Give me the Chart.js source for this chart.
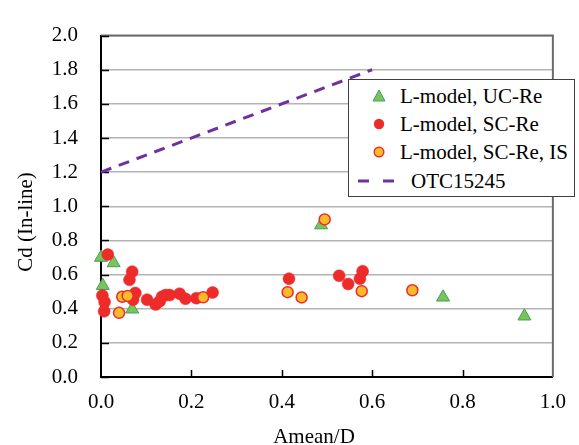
<!DOCTYPE html>
<html>
<head>
<meta charset="utf-8">
<script src="https://cdn.jsdelivr.net/npm/chart.js@4"></script>
<style>
  html, body { margin: 0; padding: 0; background: #fff; }
  #wrap { position: relative; width: 579px; height: 445px; }
  #legend {
    position: absolute; left: 348px; top: 79px; width: 225px; height: 116px;
    background: #fff; border: 1.5px solid #404040;
    font-family: "Liberation Serif", "Times New Roman", serif; font-size: 21px; color: #000;
  }
  #legend .row { position: absolute; left: 0; height: 24px; line-height: 24px; white-space: nowrap; }
  #legend svg { position: absolute; }
</style>
</head>
<body>
<div id="wrap">
  <canvas id="chart" width="579" height="445"></canvas>
  <div id="legend"></div>
</div>
<script>
// ---- data ----
const ucX = [0.000, 0.028, 0.004, 0.069, 0.487, 0.757, 0.937];
const ucY = [0.700, 0.668, 0.535, 0.397, 0.890, 0.467, 0.356];

const scX = [0.003, 0.008, 0.007, 0.015, 0.063, 0.069, 0.076, 0.071, 0.102, 0.121, 0.130, 0.135,
             0.143, 0.152, 0.174, 0.187, 0.211, 0.247, 0.416, 0.527, 0.547, 0.573, 0.579];
const scY = [0.477, 0.440, 0.385, 0.717, 0.569, 0.617, 0.492, 0.453, 0.453, 0.425, 0.444, 0.470,
             0.480, 0.480, 0.488, 0.458, 0.462, 0.495, 0.576, 0.593, 0.545, 0.576, 0.620];

const isX = [0.040, 0.047, 0.059, 0.226, 0.413, 0.444, 0.495, 0.577, 0.689];
const isY = [0.376, 0.470, 0.475, 0.467, 0.497, 0.466, 0.923, 0.503, 0.508];

const otcX = [0.0, 0.6];
const otcY = [1.2, 1.8];

const xTicks = [0, 0.2, 0.4, 0.6, 0.8, 1.0];
const yTicks = [0, 0.2, 0.4, 0.6, 0.8, 1.0, 1.2, 1.4, 1.6, 1.8, 2.0];

const seriesNames = ['L-model, UC-Re', 'L-model, SC-Re', 'L-model, SC-Re, IS', 'OTC15245'];

// ---- colours ----
const GREEN = '#7cc35b', GREEN_EDGE = '#3ba455';
const RED = '#ee2b2b';
const YELLOW = '#f9bb2a';
const PURPLE = '#7030a0';
const FONT = '"Liberation Serif", "Times New Roman", serif';

const pts = (xs, ys) => xs.map((x, i) => ({ x, y: ys[i] }));

// axis titles, inward tick marks, plot border
const decor = {
    id: 'decor',
    beforeDatasetsDraw(chart) {
        const { ctx, chartArea: a, scales: { x, y } } = chart;
        ctx.save();
        ctx.strokeStyle = '#6b6b6b';
        ctx.lineWidth = 2;
        ctx.beginPath();
        ctx.moveTo(a.left, a.top); ctx.lineTo(a.right, a.top); ctx.lineTo(a.right, a.bottom);
        ctx.stroke();
        ctx.strokeStyle = '#000';
        ctx.lineWidth = 1.5;
        ctx.beginPath();
        yTicks.forEach(v => {
            const py = Math.round(y.getPixelForValue(v)) + 0.5;
            ctx.moveTo(a.left, py); ctx.lineTo(a.left + 8, py);
        });
        xTicks.slice(1, -1).forEach(v => {
            const px = Math.round(x.getPixelForValue(v)) + 0.5;
            ctx.moveTo(px, a.bottom); ctx.lineTo(px, a.bottom - 7);
        });
        ctx.stroke();
        ctx.restore();
    },
    afterDraw(chart) {
        const { ctx } = chart;
        ctx.save();
        ctx.fillStyle = '#000';
        ctx.font = '21px ' + FONT;
        ctx.textAlign = 'center';
        ctx.textBaseline = 'alphabetic';
        ctx.fillText('Amean/D', 314, 443);
        ctx.translate(32, 222);
        ctx.rotate(-Math.PI / 2);
        ctx.fillText('Cd (In-line)', 0, 0);
        ctx.restore();
    }
};

new Chart(document.getElementById('chart'), {
    type: 'scatter',
    data: {
        datasets: [
            {
                label: seriesNames[0], data: pts(ucX, ucY), order: 3,
                pointStyle: 'triangle', pointRadius: 7.5, pointHoverRadius: 7.5,
                backgroundColor: GREEN, borderColor: GREEN_EDGE, borderWidth: 1
            },
            {
                label: seriesNames[1], data: pts(scX, scY), order: 2,
                pointStyle: 'circle', pointRadius: 6, pointHoverRadius: 6,
                backgroundColor: RED, borderColor: RED, borderWidth: 0.5
            },
            {
                label: seriesNames[2], data: pts(isX, isY), order: 1,
                pointStyle: 'circle', pointRadius: 5.5, pointHoverRadius: 5.5,
                backgroundColor: YELLOW, borderColor: RED, borderWidth: 1.5
            },
            {
                label: seriesNames[3], data: pts(otcX, otcY), order: 0, type: 'line',
                showLine: true, pointRadius: 0, borderColor: PURPLE, borderWidth: 3,
                borderDash: [11, 8], fill: false
            }
        ]
    },
    options: {
        responsive: false,
        animation: false,
        clip: false,
        layout: { padding: { top: 15, right: 26, left: 0, bottom: 0 } },
        plugins: { legend: { display: false }, tooltip: { enabled: false } },
        scales: {
            x: {
                type: 'linear', min: 0, max: 1,
                afterFit: s => { s.height = 68; },
                afterBuildTicks: s => { s.ticks = xTicks.map(v => ({ value: v })); },
                grid: { display: false, drawTicks: false },
                border: { display: true, color: '#000', width: 2 },
                ticks: {
                    padding: 13, color: '#000', maxRotation: 0,
                    font: { family: FONT, size: 21 },
                    callback: v => v.toFixed(1)
                }
            },
            y: {
                type: 'linear', min: 0, max: 2,
                afterFit: s => { s.width = 101; },
                afterBuildTicks: s => { s.ticks = yTicks.map(v => ({ value: v })); },
                grid: { color: '#b3b3b3', lineWidth: 1.5, drawTicks: false },
                border: { display: true, color: '#000', width: 2 },
                ticks: {
                    padding: 23, color: '#000',
                    font: { family: FONT, size: 21 },
                    callback: v => v.toFixed(1)
                }
            }
        }
    },
    plugins: [decor]
});

// ---- legend box (HTML) ----
const legend = document.getElementById('legend');
const markers = [
    '<svg width="14" height="13" style="left:23px;top:5px"><polygon points="7,1 13,12 1,12" fill="' + GREEN + '" stroke="' + GREEN_EDGE + '" stroke-width="1"/></svg>',
    '<svg width="12" height="12" style="left:24px;top:6px"><circle cx="6" cy="6" r="5.2" fill="' + RED + '"/></svg>',
    '<svg width="12" height="12" style="left:24px;top:6px"><circle cx="6" cy="6" r="4.8" fill="' + YELLOW + '" stroke="' + RED + '" stroke-width="1.4"/></svg>',
    '<svg width="40" height="6" style="left:9px;top:9px"><line x1="0" y1="3" x2="36" y2="3" stroke="' + PURPLE + '" stroke-width="3" stroke-dasharray="11,14"/></svg>'
];
const rowTop = [4, 32, 60, 89];
const textLeft = [51, 51, 51, 62];
seriesNames.forEach((name, i) => {
    const row = document.createElement('div');
    row.className = 'row';
    row.style.top = rowTop[i] + 'px';
    row.innerHTML = markers[i] + '<span style="position:absolute;left:' + textLeft[i] + 'px">' + name + '</span>';
    legend.appendChild(row);
});
</script>
</body>
</html>
